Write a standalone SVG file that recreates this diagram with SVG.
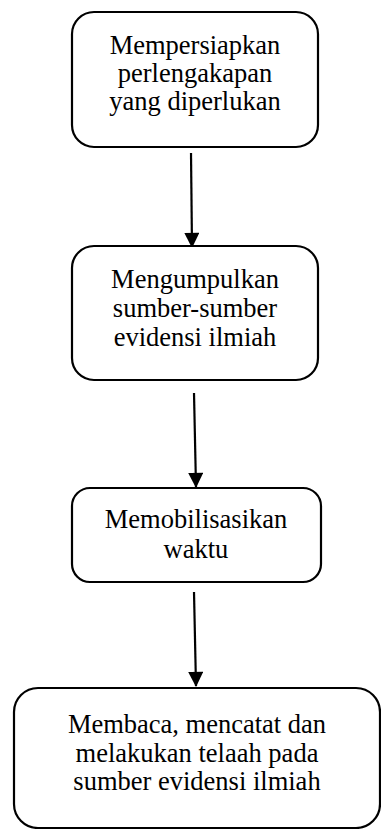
<svg xmlns="http://www.w3.org/2000/svg" width="381" height="829" viewBox="0 0 381 829">
<defs>
<marker id="ah" markerWidth="16" markerHeight="15" refX="15" refY="8" orient="auto" markerUnits="userSpaceOnUse" viewBox="0 0 16 16">
<path d="M0,0 L16,8 L0,16 Z" fill="#000"/>
</marker>
<style>
.box{fill:#fff;stroke:#000;stroke-width:2.2}
.t{font-family:'Liberation Serif','Times New Roman',Times,serif;font-size:26.5px;fill:#000;text-anchor:middle}
.c{stroke:#000;stroke-width:2.2;fill:none;marker-end:url(#ah)}
</style>
</defs>
<rect width="381" height="829" fill="#fff"/>
<g id="connectors">
<line class="c" x1="191" y1="153" x2="192" y2="247"/>
<line class="c" x1="194" y1="393" x2="196" y2="487"/>
<line class="c" x1="194" y1="592" x2="196" y2="686"/>
</g>
<g id="n1">
<rect class="box" x="72" y="12" width="246" height="135" rx="22"/>
<text class="t" x="195" y="54">Mempersiapkan</text>
<text class="t" x="195" y="82">perlengakapan</text>
<text class="t" x="195" y="110">yang diperlukan</text>
</g>
<g id="n2">
<rect class="box" x="72" y="246" width="246" height="134" rx="22"/>
<text class="t" x="195" y="288">Mengumpulkan</text>
<text class="t" x="195" y="317">sumber-sumber</text>
<text class="t" x="195" y="346">evidensi ilmiah</text>
</g>
<g id="n3">
<rect class="box" x="72" y="488" width="249" height="94" rx="18"/>
<text class="t" x="196" y="528">Memobilisasikan</text>
<text class="t" x="196" y="558">waktu</text>
</g>
<g id="n4">
<rect class="box" x="14" y="688" width="366" height="140" rx="24"/>
<text class="t" x="197" y="733">Membaca, mencatat dan</text>
<text class="t" x="197" y="762">melakukan telaah pada</text>
<text class="t" x="197" y="790">sumber evidensi ilmiah</text>
</g>
</svg>
